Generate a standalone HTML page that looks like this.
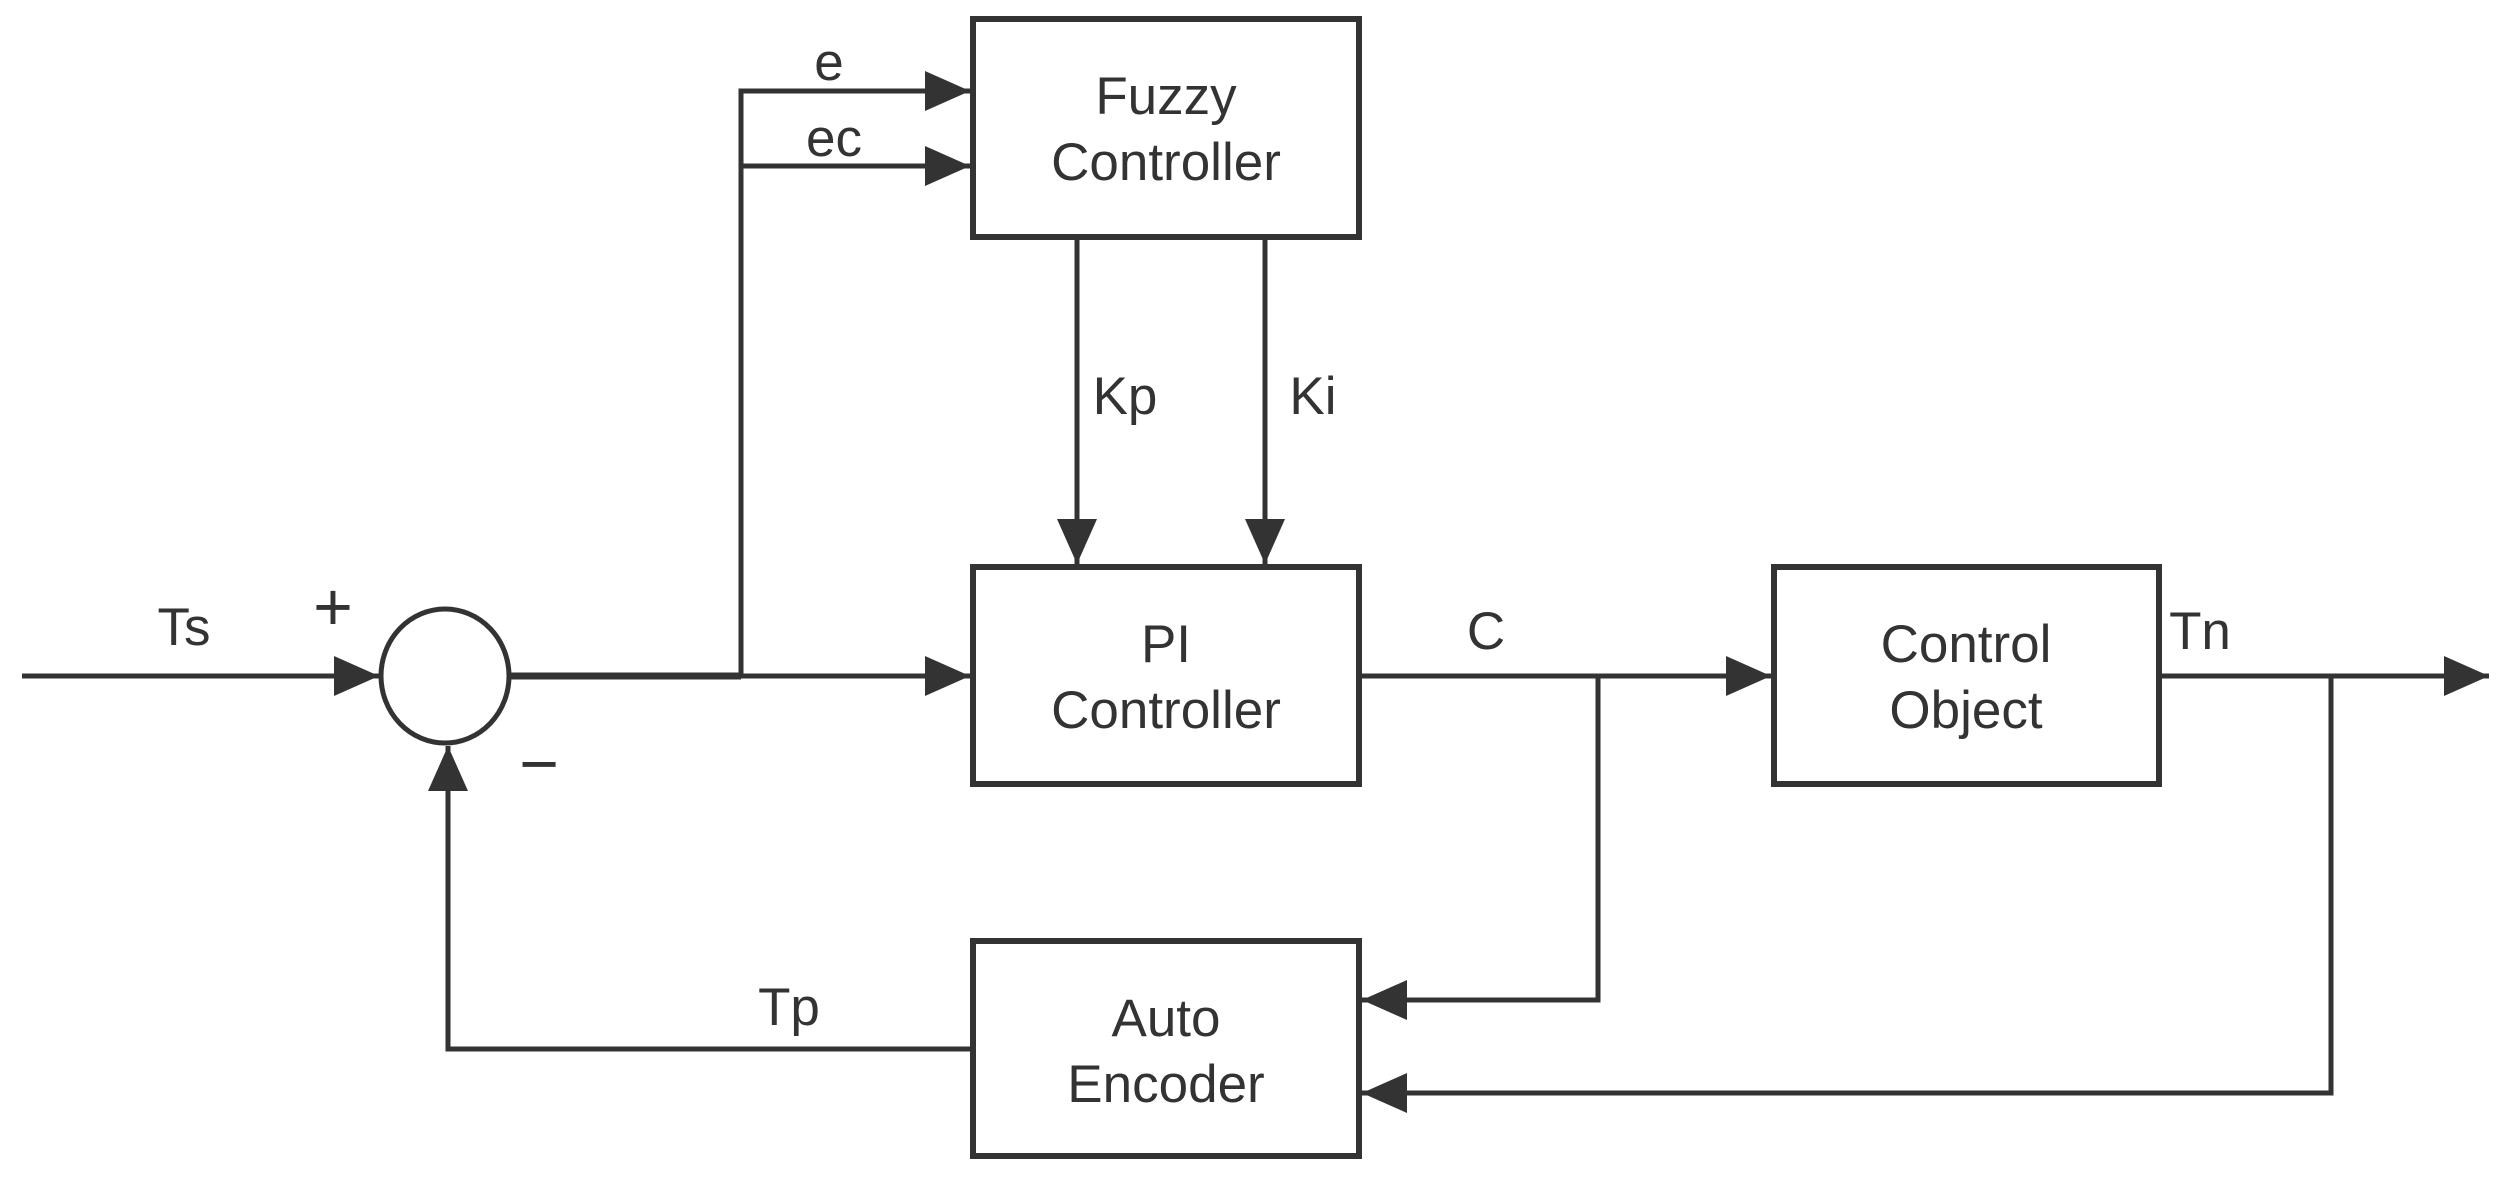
<!DOCTYPE html>
<html><head><style>html,body{margin:0;padding:0;background:#fff}</style></head><body>
<svg width="2510" height="1179" xmlns="http://www.w3.org/2000/svg" font-family="Liberation Sans, sans-serif" fill="#333">
<defs><marker id="a" markerWidth="9" markerHeight="8" refX="9" refY="4" orient="auto" markerUnits="strokeWidth"><path d="M0,0 L9,4 L0,8 Z" fill="#333"/></marker></defs>
<g stroke="#333" stroke-width="5" fill="none">
<rect x="973" y="19" width="386" height="218" stroke-width="6"/>
<rect x="973" y="567" width="386" height="217" stroke-width="6"/>
<rect x="1774" y="567" width="385" height="217" stroke-width="6"/>
<rect x="973" y="941" width="386" height="215" stroke-width="6"/>
<ellipse cx="445" cy="676" rx="64" ry="67" fill="#fff"/>
<path d="M22,676 H379" marker-end="url(#a)"/>
<path d="M509,676 H741" stroke-width="7"/>
<path d="M741,676 H970" marker-end="url(#a)"/>
<path d="M741,676 V91 H970" marker-end="url(#a)"/>
<path d="M741,166 H970" marker-end="url(#a)"/>
<path d="M1077,237 V564" marker-end="url(#a)"/>
<path d="M1265,237 V564" marker-end="url(#a)"/>
<path d="M1359,676 H1771" marker-end="url(#a)"/>
<path d="M2159,676 H2489" marker-end="url(#a)"/>
<path d="M1598,676 V1000 H1362" marker-end="url(#a)"/>
<path d="M2331,676 V1093 H1362" marker-end="url(#a)"/>
<path d="M973,1049 H448 V746" marker-end="url(#a)"/>
</g>
<g font-size="53" text-anchor="middle">
<text x="1166" y="114">Fuzzy</text><text x="1166" y="180">Controller</text>
<text x="1166" y="662">PI</text><text x="1166" y="728">Controller</text>
<text x="1966" y="662">Control</text><text x="1966" y="728">Object</text>
<text x="1166" y="1036">Auto</text><text x="1166" y="1102">Encoder</text>
<text x="184" y="645">Ts</text>
<text x="829" y="80">e</text><text x="834" y="156">ec</text>
<text x="1125" y="414">Kp</text><text x="1313" y="414">Ki</text>
<text x="1486" y="649">C</text><text x="2200" y="649">Tn</text>
<text x="789" y="1025">Tp</text>
<text x="333" y="630" font-size="68">+</text>
<text x="539" y="787" font-size="68">−</text>
</g>
</svg>
</body></html>
